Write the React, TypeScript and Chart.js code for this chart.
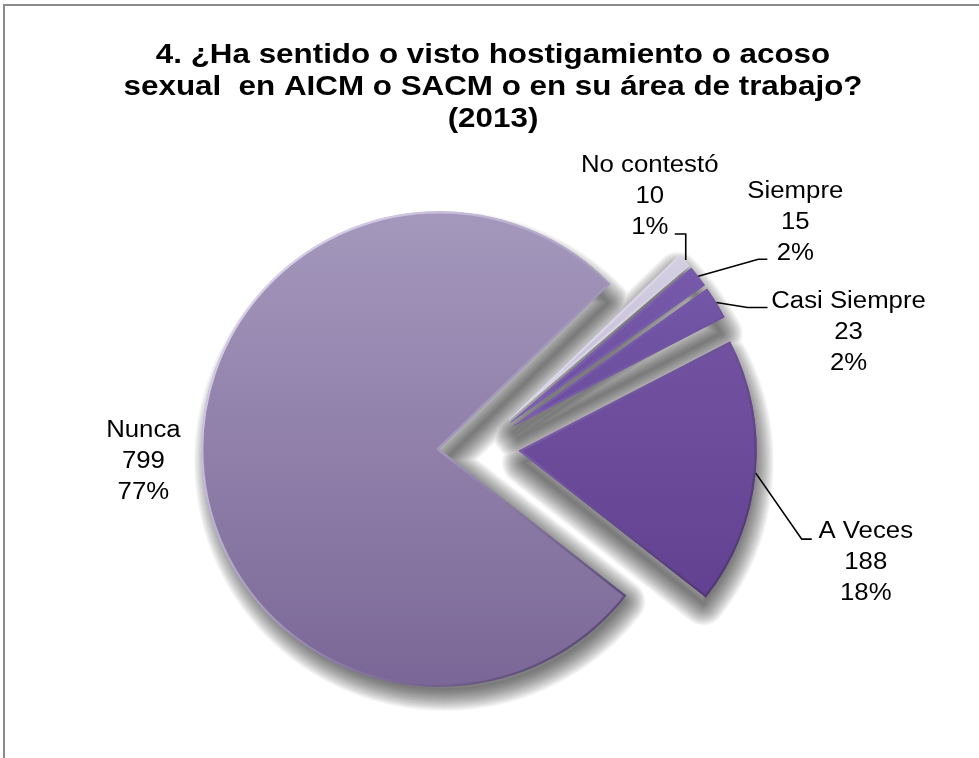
import { useEffect, useRef } from "react";
import { Chart, registerables } from "chart.js";

Chart.register(...registerables);

// ---------- data ----------
const categories = ["No contestó", "Siempre", "Casi Siempre", "A Veces", "Nunca"];
const counts = [10, 15, 23, 188, 799];
const percentLabels = ["1%", "2%", "2%", "18%", "77%"];
const titleLines = [
  "4. ¿Ha sentido o visto hostigamiento o acoso",
  "sexual  en AICM o SACM o en su área de trabajo?",
  "(2013)",
];

// ---------- styles ----------
const sliceColors: [string, string][] = [
  ["#dcd7e8", "#a89fc0"],
  ["#7d5fb1", "#5b3d8d"],
  ["#7b5daf", "#5a3c8b"],
  ["#7a5ba8", "#5c3b8c"],
  ["#a498bc", "#7b6797"],
];
// label placement relative to each slice's outer mid point (style only)
const labelLayout: { dx: number; dy: number; leader: number[][] | null }[] = [
  { dx: -35, dy: -88, leader: [[1, 0], [1, -26], [-10, -26]] },
  { dx: 97, dy: -78, leader: [[0, 0], [60, -17], [69, -17]] },
  { dx: 132, dy: 5, leader: [[0, 0], [31, 5], [51, 5]] },
  { dx: 110, dy: 65, leader: [[0, 0], [46, 66], [56, 66]] },
  { dx: -58, dy: -24, leader: null },
];
const EXPLODE = 40;
const TEXT_SX = 1.12;
const FONT_FAMILY = '"Liberation Sans", Arial, sans-serif';
const SHADOW_DX = 5;
const SHADOW_DY = 12;
const SHADOW_STEPS = 22;
const SHADOW_ALPHA = 0.036;

function drawScaledText(ctx: CanvasRenderingContext2D, text: string, x: number, y: number, font: string) {
  ctx.save();
  ctx.translate(x, y);
  ctx.scale(TEXT_SX, 1);
  ctx.font = font;
  ctx.fillStyle = "#000";
  ctx.textAlign = "center";
  ctx.textBaseline = "alphabetic";
  ctx.fillText(text, 0, 0);
  ctx.restore();
}

const explodedPiePlugin = {
  id: "explodedPie",
  beforeDatasetsDraw(chart: any) {
    const meta = chart.getDatasetMeta(0);
    const ctx: CanvasRenderingContext2D = chart.ctx;
    // soft drop shadow: one combined path per step so overlaps don't stack
    ctx.save();
    ctx.strokeStyle = "#000";
    ctx.lineJoin = "round";
    ctx.globalAlpha = SHADOW_ALPHA;
    for (let k = SHADOW_STEPS; k >= 1; k -= 1) {
      ctx.lineWidth = k * 2;
      ctx.beginPath();
      meta.data.forEach((arc: any) => {
        const mid = (arc.startAngle + arc.endAngle) / 2;
        const x = arc.x + Math.cos(mid) * EXPLODE + SHADOW_DX;
        const y = arc.y + Math.sin(mid) * EXPLODE + SHADOW_DY;
        ctx.moveTo(x, y);
        ctx.arc(x, y, Math.max(arc.outerRadius - 10, 1), arc.startAngle, arc.endAngle);
        ctx.closePath();
      });
      ctx.stroke();
    }
    ctx.restore();
  },
  beforeDatasetDraw(chart: any, args: any) {
    const meta = chart.getDatasetMeta(args.index);
    const ctx: CanvasRenderingContext2D = chart.ctx;
    meta.data.forEach((arc: any) => {
      const mid = (arc.startAngle + arc.endAngle) / 2;
      ctx.save();
      ctx.translate(Math.cos(mid) * EXPLODE, Math.sin(mid) * EXPLODE);
      arc.draw(ctx);
      ctx.restore();
    });
    return false;
  },
  afterDatasetsDraw(chart: any) {
    const meta = chart.getDatasetMeta(0);
    const ctx: CanvasRenderingContext2D = chart.ctx;
    const font = `23px ${FONT_FAMILY}`;
    meta.data.forEach((arc: any, i: number) => {
      const mid = (arc.startAngle + arc.endAngle) / 2;
      const r = arc.outerRadius + EXPLODE;
      const px = arc.x + Math.cos(mid) * r;
      const py = arc.y + Math.sin(mid) * r;
      const lay = labelLayout[i];
      if (lay.leader) {
        ctx.save();
        ctx.strokeStyle = "#000";
        ctx.lineWidth = 1.6;
        ctx.beginPath();
        lay.leader.forEach(([lx, ly], k) => {
          if (k === 0) ctx.moveTo(px + lx, py + ly);
          else ctx.lineTo(px + lx, py + ly);
        });
        ctx.stroke();
        ctx.restore();
      }
      const lines = [categories[i], String(counts[i]), percentLabels[i]];
      lines.forEach((t, k) => {
        drawScaledText(ctx, t, px + lay.dx, py + lay.dy + k * 31, font);
      });
    });
  },
  afterDraw(chart: any) {
    const ctx: CanvasRenderingContext2D = chart.ctx;
    const font = `bold 28px ${FONT_FAMILY}`;
    titleLines.forEach((t, k) => {
      drawScaledText(ctx, t, 493, 63 + k * 32, font);
    });
  },
};

export default function App() {
  const canvasRef = useRef<HTMLCanvasElement | null>(null);

  useEffect(() => {
    const canvas = canvasRef.current;
    if (!canvas) return;
    const ctx = canvas.getContext("2d")!;
    const cx = 479;
    const cy = 447;
    const R = 238;
    const fills = sliceColors.map(([a, b]) => {
      const g = ctx.createLinearGradient(0, cy - R, 0, cy + R);
      g.addColorStop(0, a);
      g.addColorStop(1, b);
      return g;
    });
    const borders = sliceColors.map(([a]) => {
      const g = ctx.createLinearGradient(cx - R, cy - R, cx + R, cy + R);
      g.addColorStop(0, "rgba(238,232,252,0.95)");
      g.addColorStop(0.5, a);
      g.addColorStop(1, "rgba(60,40,90,0.9)");
      return g;
    });

    const chart = new Chart(canvas, {
      type: "pie",
      data: {
        labels: categories,
        datasets: [
          {
            data: counts,
            backgroundColor: fills,
            borderColor: borders,
            borderWidth: 2,
            borderAlign: "inner",
          } as any,
        ],
      },
      options: {
        responsive: false,
        animation: false,
        events: [],
        rotation: 46,
        radius: R,
        layout: { padding: { left: 0, right: 21, top: 136, bottom: 0 } },
        plugins: {
          legend: { display: false },
          title: { display: false },
          tooltip: { enabled: false },
        },
      } as any,
      plugins: [explodedPiePlugin as any],
    });
    return () => chart.destroy();
  }, []);

  return (
    <div
      style={{
        position: "fixed",
        left: 0,
        top: 0,
        width: 979,
        height: 758,
        background: "#fff",
        overflow: "hidden",
      }}
    >
      <div
        style={{
          position: "absolute",
          left: 3,
          top: 4,
          width: 1000,
          height: 800,
          borderTop: "2px solid #8c8c8c",
          borderLeft: "2px solid #8c8c8c",
        }}
      />
      <canvas
        ref={canvasRef}
        width={979}
        height={758}
        style={{ position: "absolute", left: 0, top: 0, width: 979, height: 758 }}
      />
    </div>
  );
}
